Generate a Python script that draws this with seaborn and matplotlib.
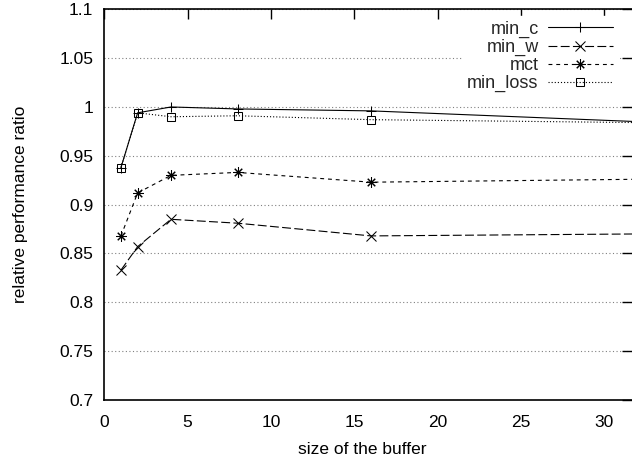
import matplotlib
matplotlib.use("Agg")
import matplotlib.pyplot as plt
import seaborn as sns
import pandas as pd

buffer_size = [1, 2, 4, 8, 16, 32]
min_c = [0.938, 0.994, 1.000, 0.998, 0.996, 0.985]
min_w = [0.833, 0.857, 0.885, 0.881, 0.868, 0.870]
mct = [0.868, 0.912, 0.930, 0.933, 0.923, 0.926]
min_loss = [0.938, 0.994, 0.990, 0.991, 0.987, 0.984]

series_names = ["min_c", "min_w", "mct", "min_loss"]
series_values = [min_c, min_w, mct, min_loss]
y_ticks = [0.7, 0.75, 0.8, 0.85, 0.9, 0.95, 1.0, 1.05, 1.1]
y_tick_labels = ["0.7", "0.75", "0.8", "0.85", "0.9", "0.95", "1", "1.05", "1.1"]
x_ticks = [0, 5, 10, 15, 20, 25, 30]

sns.set_theme(style="white")
plt.rcParams["font.family"] = ["Liberation Sans", "DejaVu Sans"]

fig = plt.figure(figsize=(6.32, 4.61), dpi=100)
ax = fig.add_axes([104.3 / 632, 1 - 400 / 461, (632 - 104.3) / 632, (400 - 9.3) / 461])

styles = {
    "min_c": dict(marker="+", linestyle="-", markersize=7, mew=0.75),
    "min_w": dict(marker="x", linestyle=(0, (8, 3)), markersize=6.5, mew=0.75),
    "mct": dict(marker=(8, 2, 0), linestyle=(0, (3.5, 3.5)), markersize=7.5, mew=0.75),
    "min_loss": dict(marker="s", linestyle=(0, (1, 1.8)), markersize=6,
                     mew=0.75, mfc="none"),
}

for name, vals in zip(series_names, series_values):
    df = pd.DataFrame({"x": buffer_size, "y": vals})
    sns.lineplot(data=df, x="x", y="y", ax=ax, color="black", lw=0.8,
                 label=name, mec="black", **styles[name])

ax.set_xlim(0, (632 - 104.3) / 16.67)
ax.set_ylim(0.7, 1.1)
ax.set_xticks(x_ticks)
ax.set_xticklabels([str(t) for t in x_ticks])
ax.set_yticks(y_ticks)
ax.set_yticklabels(y_tick_labels)
ax.tick_params(direction="in", length=7, width=1.0, top=True, right=True,
               labelsize=12.5, pad=8, colors="black")
ax.tick_params(axis="x", pad=11)
ax.set_axisbelow(True)
ax.grid(axis="y", color="0.5", linestyle=(0, (1, 2.2)), linewidth=0.8)
ax.grid(axis="x", visible=False)

for side in ["left", "bottom", "top"]:
    ax.spines[side].set_color("black")
    ax.spines[side].set_linewidth(1.2)
ax.spines["right"].set_visible(False)

ax.set_xlabel("size of the buffer", fontsize=12.5, color="black")
ax.set_ylabel("relative performance ratio", fontsize=12.5, color="black")
ax.xaxis.set_label_coords(0.488, -0.108)
ax.yaxis.set_label_coords(-0.145, 0.5)

leg = ax.legend(loc="upper right", bbox_to_anchor=((615 - 104.3) / 527.7 + 0.004, 1 - 7 / 390.7),
                markerfirst=False, fontsize=13, frameon=True, fancybox=False,
                edgecolor="white", facecolor="white", framealpha=1.0,
                handlelength=3.6, handletextpad=0.5, labelspacing=0.05,
                borderpad=0.25, borderaxespad=0)

fig.savefig("out.png", dpi=100)
